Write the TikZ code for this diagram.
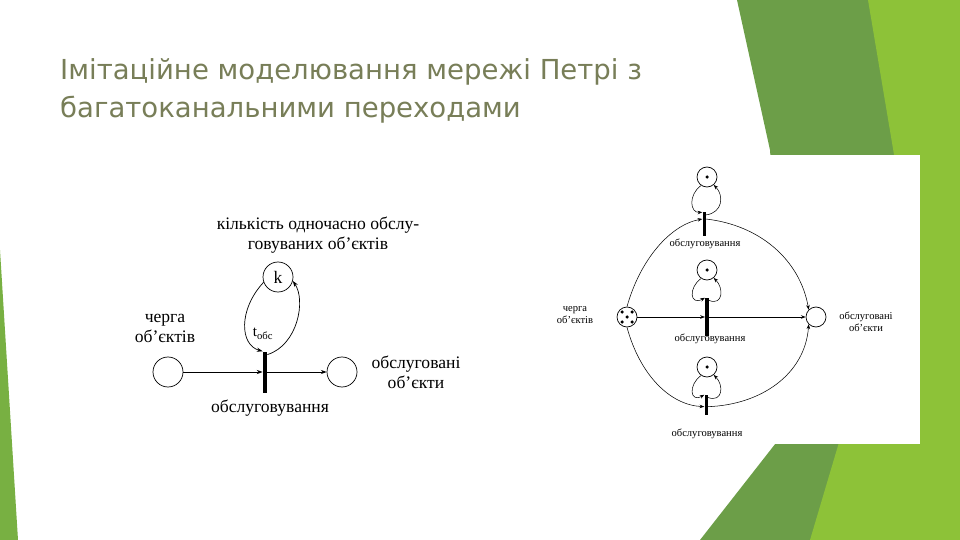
\documentclass[tikz,border=0pt]{standalone}
\usepackage{fontspec}
\setmainfont{Liberation Serif}
\newfontfamily\titlefont{DejaVu Sans}
\usetikzlibrary{arrows.meta}
\begin{document}
\begin{tikzpicture}[x=0.03cm,y=-0.03cm,
  place/.style={circle,draw,line width=0.6pt,inner sep=0pt},
  bigplace/.style={place,minimum size=0.9cm},
  smallplace/.style={place,minimum size=0.6cm},
  bar/.style={fill=black,draw=none,inner sep=0pt},
  arc/.style={-{Stealth[length=5pt,width=3.5pt]},line width=0.6pt},
  arcs/.style={-{Stealth[length=4pt,width=3pt]},line width=0.45pt},
  lbl/.style={font=\fontsize{15}{17}\selectfont,align=center,inner sep=0pt},
  slbl/.style={font=\fontsize{9}{10}\selectfont,align=center,inner sep=0pt},
  tok/.style={circle,fill=black,inner sep=0pt,minimum size=3pt}]
\useasboundingbox (0,0) rectangle (960,540);
\fill[white] (0,0) rectangle (960,540);
% background
\fill[color={rgb,255:red,108;green,158;blue,72}] (737,0)--(960,0)--(960,540)--(700,540)--(790,425)--(770,150)--cycle;
\fill[color={rgb,255:red,141;green,194;blue,56}] (868,0)--(960,0)--(960,540)--(810,540)--(905,220)--cycle;
\fill[color={rgb,255:red,120;green,176;blue,66}] (0,250)--(0,540)--(18,540)--cycle;
\fill[white] (612,155) rectangle (920,444);
% title
\node[anchor=west,font=\titlefont\fontsize{23.5}{32}\selectfont,text={rgb,255:red,120;green,126;blue,88},align=left,inner sep=0pt] (title) at (60,91) {Імітаційне моделювання мережі Петрі з\\багатоканальними переходами};
% left diagram
\node[bigplace] (q) at (168,372) {};
\node[bar,minimum width=0.13cm,minimum height=1.23cm] (t) at (265,372) {};
\node[bigplace] (o) at (342,372) {};
\node[bigplace] (k) at (278,277) {\fontsize{15}{17}\selectfont k};
\draw[arc] (q) -- (t.west);
\draw[arc] (t.east) -- (o);
\draw[arc] (k.200) .. controls (238,310) and (240,345) .. (t.north west);
\draw[arc] ([yshift=-0.1cm]t.north east) .. controls (298,345) and (306,300) .. (k.-15);
\node[lbl] (lk) at (318,235) {кількість одночасно обслу-\\говуваних об’єктів};
\node[lbl] (lq) at (165,328) {черга\\об’єктів};
\node[lbl,font=\fontsize{13}{15}\selectfont] (lt) at (263,334) {t\textsubscript{обс}};
\node[lbl] (lo) at (416,372) {обслуговані\\об’єкти};
\node[lbl] (lb) at (270,408) {обслуговування};
% right diagram
\node[smallplace] (Q) at (627,317) {};
\node[tok] (d1) at (622,312) {};
\node[tok] (d2) at (632,312) {};
\node[tok] (d3) at (627,317) {};
\node[tok] (d4) at (622,322) {};
\node[tok] (d5) at (632,322) {};
\node[smallplace] (O) at (816,317) {};
\node[bar,minimum width=0.09cm,minimum height=0.69cm] (T1) at (704,224) {};
\node[bar,minimum width=0.11cm,minimum height=1.14cm] (T2) at (707,317) {};
\node[bar,minimum width=0.09cm,minimum height=0.6cm] (T3) at (706,405) {};
\node[smallplace] (P1) at (707,177) {}; \node[tok] (p1) at (707,177) {};
\node[smallplace] (P2) at (707,270) {}; \node[tok] (p2) at (707,270) {};
\node[smallplace] (P3) at (707,367) {}; \node[tok] (p3) at (707,367) {};
\draw[arcs] (Q.north) .. controls (640,260) and (670,225) .. ([yshift=0.15cm]T1.west);
\draw[arcs] ([yshift=0.15cm]T1.east) .. controls (760,225) and (800,260) .. (O.north west);
\draw[arcs] (Q.south) .. controls (640,375) and (670,405) .. ([yshift=-0.05cm]T3.west);
\draw[arcs] ([yshift=-0.05cm]T3.east) .. controls (760,405) and (805,375) .. (O.south west);
\draw[arcs] (Q.east) -- (T2.west);
\draw[arcs,line width=0.8pt] (T2.east) -- (O.west);
\foreach \P/\T/\y in {P1/T1/177,P2/T2/270,P3/T3/367}{
  \draw[arcs] (\P.235) .. controls (688,\y+18) and (690,\y+36) .. (\T.north west);
  \draw[arcs] ([yshift=-0.08cm]\T.north east) .. controls (723,\y+36) and (724,\y+18) .. (\P.-50);
}
\node[slbl] (L1) at (705,244) {обслуговування};
\node[slbl] (L2) at (710,339) {обслуговування};
\node[slbl] (L3) at (707,434) {обслуговування};
\node[slbl] (LQ) at (575,315) {черга\\об’єктів};
\node[slbl] (LO) at (866,322) {обслуговані\\об’єкти};
\end{tikzpicture}
\end{document}
